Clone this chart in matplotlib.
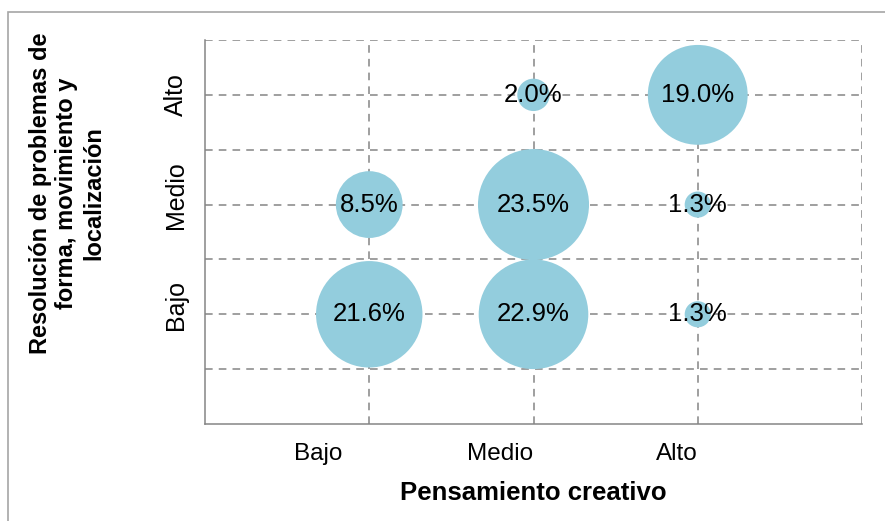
import matplotlib
matplotlib.use("Agg")
import matplotlib.pyplot as plt
from matplotlib.patches import Rectangle
from matplotlib.transforms import ScaledTranslation

plt.rcParams['font.family'] = ['Liberation Sans', 'DejaVu Sans']

# Categories on each axis
pensamiento = ['Bajo', 'Medio', 'Alto']
resolucion = ['Bajo', 'Medio', 'Alto']

# Percentages per cell: one list per "resolucion" level, across "pensamiento" levels
pct_bajo = [21.6, 22.9, 1.3]
pct_medio = [8.5, 23.5, 1.3]
pct_alto = [None, 2.0, 19.0]
rows = [pct_bajo, pct_medio, pct_alto]

bubble_color = '#93CDDD'
grid_color = '#858585'

fig = plt.figure(figsize=(8.85, 5.21), dpi=100)
ax = fig.add_axes([205 / 885, 1 - 424 / 521, (862 - 205) / 885, (424 - 40) / 521])

# bubble area proportional to the percentage
scale = 272.0
xs, ys, vals = [], [], []
for yi, row in enumerate(rows, start=1):
    for xi, v in enumerate(row, start=1):
        if v is None:
            continue
        xs.append(xi)
        ys.append(yi)
        vals.append(v)

ax.scatter(xs, ys, s=[v * scale for v in vals], color=bubble_color,
           edgecolors='none', zorder=3)
for x, y, v in zip(xs, ys, vals):
    ax.text(x, y, f'{v:.1f}%', ha='center', va='center', fontsize=18.5,
            color='black', zorder=4)

ax.set_xlim(0, 4)
ax.set_ylim(0, 3.5)

# dashed grid
for gx in [1, 2, 3, 4]:
    ax.axvline(gx, color=grid_color, linestyle=(0, (5, 4)), linewidth=1.1, zorder=1)
for gy in [0.5, 1, 1.5, 2, 2.5, 3, 3.5]:
    ax.axhline(gy, color=grid_color, linestyle=(0, (5, 4)), linewidth=1.1, zorder=1)

for side in ['top', 'right']:
    ax.spines[side].set_visible(False)
for side in ['left', 'bottom']:
    ax.spines[side].set_color(grid_color)
    ax.spines[side].set_linewidth(1.1)

ax.set_xticks(range(1, len(pensamiento) + 1))
ax.set_xticklabels(pensamiento, fontsize=17.5)
ax.set_yticks(range(1, len(resolucion) + 1))
ax.set_yticklabels(resolucion, fontsize=18, rotation=90, va='center')
ax.tick_params(axis='x', length=0, pad=14)
ax.tick_params(axis='y', length=0, pad=12)

# category labels sit as free-standing boxes, shifted from the grid lines
x_shift_px = [-51, -33, -21]
for lbl, dx in zip(ax.get_xticklabels(), x_shift_px):
    lbl.set_transform(lbl.get_transform() + ScaledTranslation(dx / 100, 0, fig.dpi_scale_trans))
y_shift_px = [9, 9, 0]
for lbl, dy in zip(ax.get_yticklabels(), y_shift_px):
    lbl.set_transform(lbl.get_transform() + ScaledTranslation(0, dy / 100, fig.dpi_scale_trans))

fig.text(0.5 * (205 + 862) / 885, 1 - 493 / 521, 'Pensamiento creativo',
         ha='center', va='center', fontsize=18.5, fontweight='bold')
fig.text(67 / 885, 1 - 193 / 521,
         'Resolución de problemas de\nforma, movimiento y\nlocalización',
         ha='center', va='center', rotation=90, fontsize=17, fontweight='bold',
         linespacing=1.2)

# outer frame of the chart area
fig.patches.append(Rectangle((8 / 885, -0.2), 2, 1 - 12 / 521 + 0.2,
                             transform=fig.transFigure, fill=False,
                             edgecolor='#a6a6a6', linewidth=1.2))

fig.savefig('out.png', dpi=100)
